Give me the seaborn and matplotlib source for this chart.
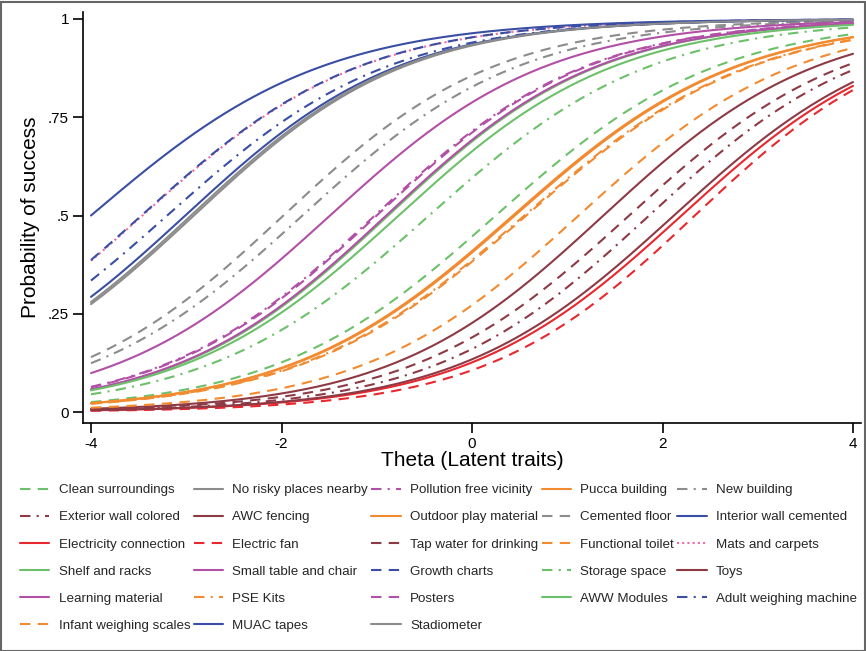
import numpy as np
import pandas as pd
import matplotlib
matplotlib.use("Agg")
import matplotlib.pyplot as plt
import seaborn as sns
from matplotlib.patches import Rectangle

sns.set_theme(style="white")
plt.rcParams['font.family'] = ['Liberation Sans', 'DejaVu Sans']

# Items in legend order (row-wise, 5 per row)
items = [
    "Clean surroundings", "No risky places nearby", "Pollution free vicinity", "Pucca building", "New building",
    "Exterior wall colored", "AWC fencing", "Outdoor play material", "Cemented floor", "Interior wall cemented",
    "Electricity connection", "Electric fan", "Tap water for drinking", "Functional toilet", "Mats and carpets",
    "Shelf and racks", "Small table and chair", "Growth charts", "Storage space", "Toys",
    "Learning material", "PSE Kits", "Posters", "AWW Modules", "Adult weighing machine",
    "Infant weighing scales", "MUAC tapes", "Stadiometer",
]

# 2PL item parameters: discrimination (a) and difficulty (b)
discrimination = [
    0.86, 0.90, 0.90, 0.85, 0.88,
    0.89, 0.89, 0.85, 0.90, 0.89,
    0.88, 0.91, 0.88, 0.84, 0.87,
    0.90, 0.88, 0.87, 0.86, 0.88,
    0.90, 0.84, 0.90, 0.88, 0.86,
    0.88, 0.82, 0.90,
]
difficulty = [
    0.25, -2.92, -1.02, 0.43, -1.78,
    1.86, 1.38, 0.45, -1.98, -3.01,
    2.20, 2.34, 1.65, 0.57, -3.46,
    -0.88, -1.49, -3.47, -0.45, 2.12,
    -0.90, 0.55, -1.00, -0.77, -3.20,
    1.12, -4.00, -2.95,
]

colors = {
    "green": "#6dc06a", "gray": "#8c8c8c", "magenta": "#b24fa6", "orange": "#f28a30",
    "maroon": "#8e3a45", "blue": "#3a4ea3", "red": "#e8272e", "pink": "#f06aa8",
}
item_color = [
    "green", "gray", "magenta", "orange", "gray",
    "maroon", "maroon", "orange", "gray", "blue",
    "red", "red", "maroon", "orange", "pink",
    "green", "magenta", "blue", "green", "maroon",
    "magenta", "orange", "magenta", "green", "blue",
    "orange", "blue", "gray",
]
item_style = [
    "dash", "solid", "dashdot", "solid", "dashdot",
    "dashdot", "solid", "solid", "dash", "solid",
    "solid", "dash", "dash", "dash", "dot",
    "solid", "solid", "dash", "dashdot", "solid",
    "solid", "dashdot", "dash", "solid", "dashdot",
    "dash", "solid", "solid",
]
styles = {
    "solid": "-",
    "dash": (0, (5, 3.5)),
    "dashdot": (0, (5, 3, 1, 3)),
    "dot": (0, (1, 1.5)),
}

theta = np.linspace(-4, 4, 241)

fig = plt.figure(figsize=(8.66, 6.51), dpi=100)
ax = fig.add_axes([83 / 866, 1 - 423 / 651, (861 - 83) / 866, (423 - 12) / 651])

lines = []
for name, a, b, c, s in zip(items, discrimination, difficulty, item_color, item_style):
    p = 1 / (1 + np.exp(-a * (theta - b)))
    sns.lineplot(x=theta, y=p, ax=ax, color=colors[c], linestyle=styles[s],
                 linewidth=1.5, label=name, legend=False)
    lines.append(ax.lines[-1])

ax.set_xlim(-4 - 8 / 95.25, 4 + 8 / 95.25)
ax.set_ylim(-11 / 393, 1 + 7 / 393)
ax.set_xticks([-4, -2, 0, 2, 4])
ax.set_xticklabels(["-4", "-2", "0", "2", "4"])
ax.set_yticks([0, 0.25, 0.5, 0.75, 1])
ax.set_yticklabels(["0", ".25", ".5", ".75", "1"])
ax.tick_params(axis="both", direction="out", length=7, width=1.2, color="black",
               labelsize=11, labelcolor="black", left=True, bottom=True, pad=3)
ax.set_xlabel("Theta (Latent traits)", fontsize=15, labelpad=0, color="black")
ax.set_ylabel("Probability of success", fontsize=15, labelpad=6, color="black")
for side in ["top", "right"]:
    ax.spines[side].set_visible(False)
for side in ["left", "bottom"]:
    ax.spines[side].set_color("black")
    ax.spines[side].set_linewidth(1.2)

# legend filled row-wise like the original
ncol = 5
order = [i for col in range(ncol) for i in range(col, len(items), ncol)]
leg = fig.legend([lines[i] for i in order], [items[i] for i in order],
                 ncol=ncol, loc="upper left", bbox_to_anchor=(20 / 866, 1 - 484 / 651),
                 frameon=False, fontsize=9.6, handlelength=2.2, handletextpad=0.7,
                 columnspacing=0.25, labelspacing=1.11, borderaxespad=0, borderpad=0)

fig.patches.append(Rectangle((0.001, 0.0), 0.998, 0.997, transform=fig.transFigure,
                             fill=False, edgecolor="#666666", linewidth=1.5))

fig.savefig("out.png", dpi=100)
